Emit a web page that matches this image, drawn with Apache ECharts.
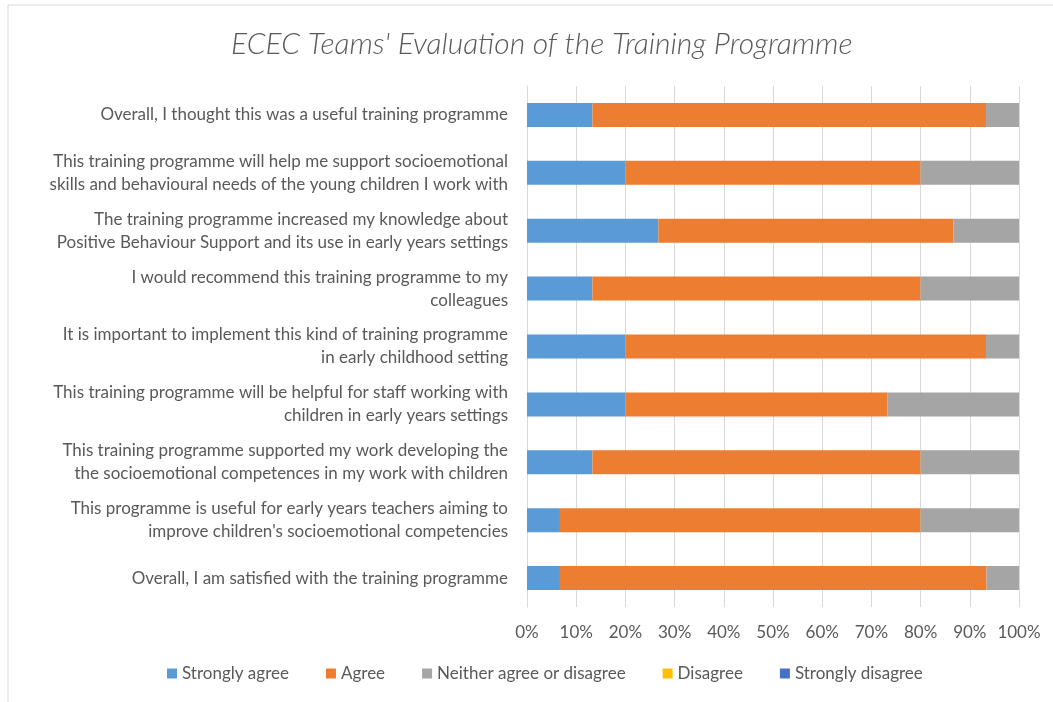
<!DOCTYPE html>
<html>
<head>
<meta charset="utf-8">
<title>ECEC Teams' Evaluation of the Training Programme</title>
<script src="https://cdn.jsdelivr.net/npm/echarts@6/dist/echarts.min.js"></script>
<style>
  html, body { margin: 0; padding: 0; background: #fff; }
  #chart { width: 1053px; height: 702px; }
</style>
</head>
<body>
<div id="chart"></div>
<script>
// statements, top to bottom
const categories = [
  'Overall, I thought this was a useful training programme',
  'This training programme will help me support socioemotional\nskills and behavioural needs of the young children I work with',
  'The training programme increased my knowledge about\nPositive Behaviour Support and its use in early years settings',
  'I would recommend this training programme to my\ncolleagues',
  'It is important to implement this kind of training programme\nin early childhood setting',
  'This training programme will be helpful for staff working with\nchildren in early years settings',
  'This training programme supported my work developing the\nthe socioemotional competences in my work with children',
  'This programme is useful for early years teachers aiming to\nimprove children\'s socioemotional competencies',
  'Overall, I am satisfied with the training programme'
];

// percentages per answer
const stronglyAgree = [13.3, 20, 26.7, 13.3, 20, 20, 13.3, 6.7, 6.7];
const agree = [80, 60, 60, 66.7, 73.3, 53.3, 66.7, 73.3, 86.7];
const neither = [6.7, 20, 13.3, 20, 6.7, 26.7, 20, 20, 6.7];
const disagree = [0, 0, 0, 0, 0, 0, 0, 0, 0];
const stronglyDisagree = [0, 0, 0, 0, 0, 0, 0, 0, 0];

const seriesNames = ['Strongly agree', 'Agree', 'Neither agree or disagree', 'Disagree', 'Strongly disagree'];
const seriesData = [stronglyAgree, agree, neither, disagree, stronglyDisagree];
const colors = ['#5B9BD5', '#ED7D31', '#A5A5A5', '#FFC000', '#4472C4'];

const font = 'Lato, "Open Sans", sans-serif';
const txt = '#595959';

let myChart = echarts.init(document.getElementById('chart'));
myChart.setOption({
  color: colors,
  textStyle: { fontFamily: font },
  title: {
    text: "ECEC Teams' Evaluation of the Training Programme",
    left: 226,
    top: 24,
    textStyle: { fontFamily: font, fontSize: 30, fontStyle: 'italic', fontWeight: 300, color: txt }
  },
  graphic: [{
    type: 'rect',
    shape: { x: 8, y: 5, width: 1200, height: 800 },
    style: { fill: 'none', stroke: '#D9D9D9', lineWidth: 1 },
    silent: true
  }],
  legend: {
    data: seriesNames,
    bottom: 15,
    left: 162,
    itemWidth: 10,
    itemHeight: 10,
    itemGap: 37,
    icon: 'rect',
    textStyle: { fontFamily: font, fontSize: 17, color: txt }
  },
  grid: { left: 527, right: 34, top: 86, bottom: 95, containLabel: false },
  xAxis: {
    type: 'value',
    min: 0,
    max: 100,
    interval: 10,
    axisLine: { show: false },
    axisTick: { show: false },
    splitLine: { lineStyle: { color: '#D9D9D9' } },
    axisLabel: { formatter: '{value}%', fontSize: 17, color: txt, margin: 17, fontFamily: font }
  },
  yAxis: {
    type: 'category',
    data: categories,
    inverse: true,
    axisLine: { lineStyle: { color: '#D9D9D9' } },
    axisTick: { show: false },
    axisLabel: { fontSize: 17, color: txt, margin: 19, lineHeight: 23, align: 'right', fontFamily: font }
  },
  series: seriesNames.map((name, i) => ({
    name: name,
    type: 'bar',
    stack: 'total',
    barWidth: 24,
    data: seriesData[i]
  }))
});
</script>
</body>
</html>
